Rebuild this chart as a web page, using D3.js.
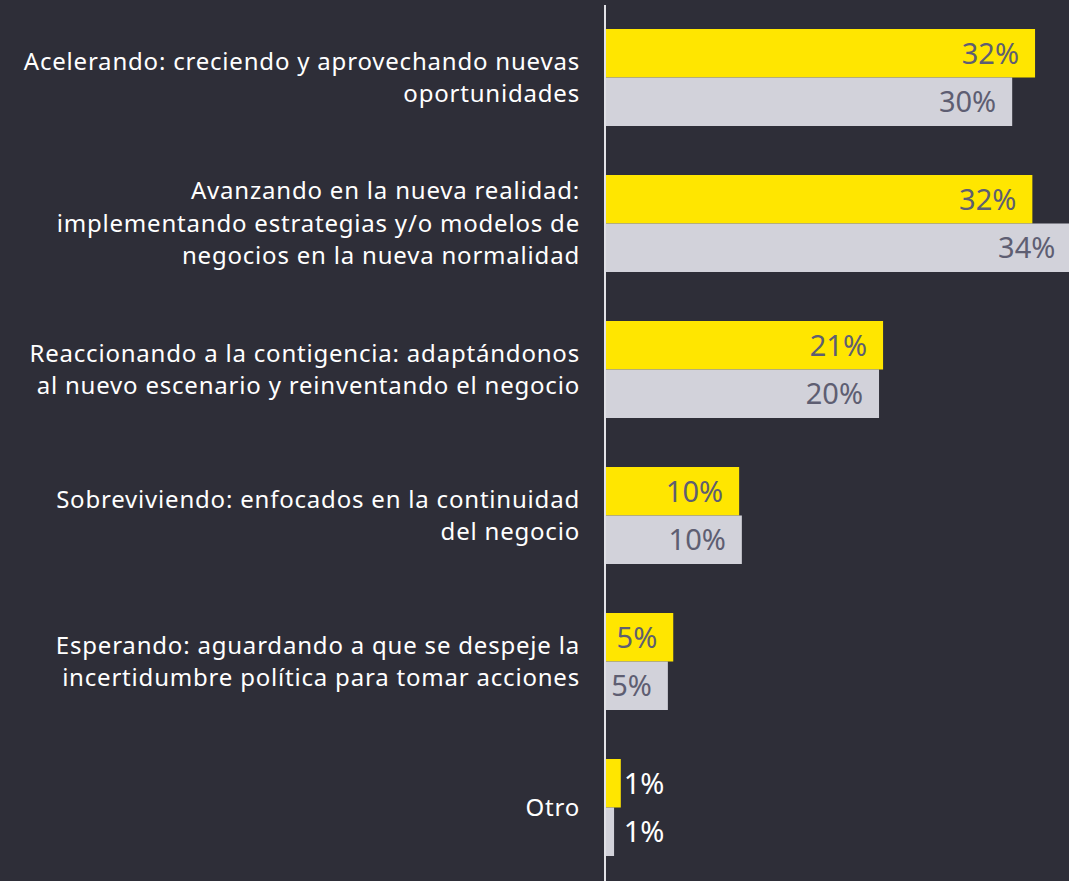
<!DOCTYPE html>
<html>
<head>
<meta charset="utf-8">
<script src="https://cdn.jsdelivr.net/npm/d3@7"></script>
<style>
  html, body { margin: 0; padding: 0; background: #2e2e38; }
  #chart { width: 1069px; height: 881px; overflow: hidden; }
</style>
</head>
<body>
<div id="chart"></div>
<script>
// Data.
const CATEGORIES = [
    ["Acelerando: creciendo y aprovechando nuevas", "oportunidades"],
    ["Avanzando en la nueva realidad:", "implementando estrategias y/o modelos de", "negocios en la nueva normalidad"],
    ["Reaccionando a la contigencia: adaptándonos", "al nuevo escenario y reinventando el negocio"],
    ["Sobreviviendo: enfocados en la continuidad", "del negocio"],
    ["Esperando: aguardando a que se despeje la", "incertidumbre política para tomar acciones"],
    ["Otro"]
];
const SERIES = ["a", "b"];
const VALUES_A = [31.9, 31.7, 20.6, 9.9, 5.0, 1.1];   // yellow
const VALUES_B = [30.2, 34.6, 20.3, 10.1, 4.6, 0.6];  // grey
const LABELS_A = ["32%", "32%", "21%", "10%", "5%", "1%"];
const LABELS_B = ["30%", "34%", "20%", "10%", "5%", "1%"];

const WIDTH = 1069;
const HEIGHT = 881;
const AXIS_X = 605;

window.onload = function() {

    var rows = CATEGORIES.map(function (c, i) {
        return {
            'id': i, 'lines': c,
            'bars': [
                {'key': "a", 'value': VALUES_A[i], 'label': LABELS_A[i], 'max': Math.max(VALUES_A[i], VALUES_B[i])},
                {'key': "b", 'value': VALUES_B[i], 'label': LABELS_B[i], 'max': Math.max(VALUES_A[i], VALUES_B[i])}
            ]
        };
    });

    var canvas = d3.select("#chart").append("svg")
                   .attr("width", WIDTH)
                   .attr("height", HEIGHT);

    var x = d3.scaleLinear().domain([0, 10]).range([AXIS_X + 1, AXIS_X + 1 + 134.5]);

    var y = d3.scaleBand()
              .domain(rows.map(function (d) { return d.id; }))
              .range([29, 856])
              .paddingInner(49 / 146)
              .paddingOuter(0);

    var y2 = d3.scaleBand().domain(SERIES).range([0, y.bandwidth()]);

    var color = d3.scaleOrdinal().domain(SERIES).range(["#ffe600", "#d2d2da"]);

    var group = canvas.selectAll("g.row")
                      .data(rows)
                      .enter()
                      .append("g")
                      .attr("class", "row")
                      .attr("transform", function (d) { return "translate(0," + y(d.id) + ")"; });

    group.selectAll("rect")
         .data(function (d) { return d.bars; })
         .enter()
         .append("rect")
         .attr("x", x(0))
         .attr("y", function (d) { return y2(d.key); })
         .attr("width", function (d) { return x(d.value) - x(0); })
         .attr("height", y2.bandwidth())
         .attr("fill", function (d) { return color(d.key); });

    // value labels: inside the bar, or outside when the bar is too short
    group.selectAll("text.value")
         .data(function (d) { return d.bars; })
         .enter()
         .append("text")
         .attr("class", "value")
         .attr("x", function (d) {
             return d.value < 3 ? x(d.max) + 3 : x(d.value) - 16;
         })
         .attr("y", function (d) { return y2(d.key) + y2.bandwidth() / 2; })
         .attr("dy", "0.36em")
         .attr("text-anchor", function (d) { return d.value < 3 ? "start" : "end"; })
         .attr("font-family", "'Noto Sans', sans-serif")
         .attr("font-size", "29px")
         .attr("fill", function (d) { return d.value < 3 ? "#ffffff" : "#5e5e72"; })
         .text(function (d) { return d.label; });

    // category labels
    var LINE_H = 32.5;
    group.append("text")
         .attr("class", "cat")
         .attr("text-anchor", "end")
         .attr("font-family", "'Noto Sans', sans-serif")
         .attr("font-size", "24px")
         .attr("letter-spacing", "0.8px")
         .attr("fill", "#ffffff")
         .selectAll("tspan")
         .data(function (d) {
             var n = d.lines.length;
             return d.lines.map(function (t, k) {
                 return {'t': t, 'dy': y.bandwidth() / 2 + (k - (n - 1) / 2) * LINE_H};
             });
         })
         .enter()
         .append("tspan")
         .attr("x", 580)
         .attr("y", function (d) { return d.dy; })
         .attr("dy", "0.35em")
         .text(function (d) { return d.t; });

    // axis line
    canvas.append("line")
          .attr("x1", AXIS_X)
          .attr("x2", AXIS_X)
          .attr("y1", 5)
          .attr("y2", HEIGHT)
          .attr("stroke", "#e1e1e6")
          .attr("stroke-width", 2);
};
</script>
</body>
</html>
